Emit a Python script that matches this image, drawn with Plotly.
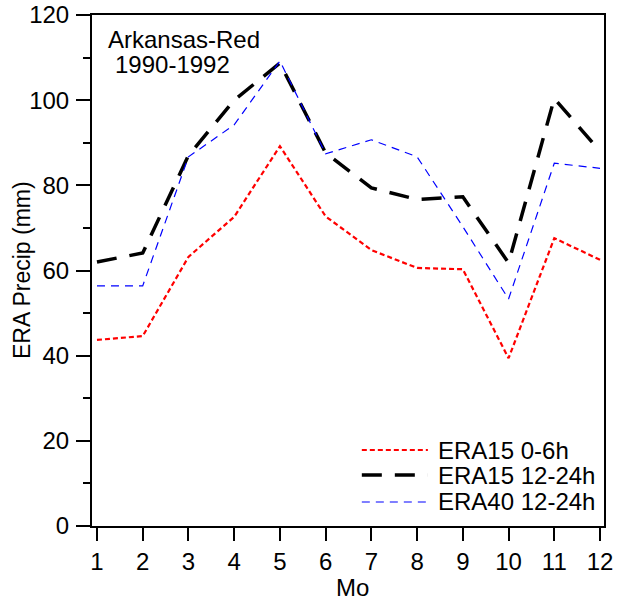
import plotly.graph_objects as go

months = list(range(1, 13))
era15_0_6h = [43.7, 44.6, 63.2, 72.6, 89.2, 72.7, 64.8, 60.6, 60.3, 39.4, 67.6, 62.5]
era15_12_24h = [62.0, 64.1, 87.0, 100.0, 108.7, 87.6, 79.4, 76.7, 77.3, 61.8, 100.4, 88.0]
era40_12_24h = [56.4, 56.4, 86.7, 94.2, 109.2, 87.4, 90.7, 86.7, 70.3, 53.3, 85.2, 84.0]

series_names = ["ERA15 0-6h", "ERA15 12-24h", "ERA40 12-24h"]
series_values = [era15_0_6h, era15_12_24h, era40_12_24h]
styles = [
    dict(color="#ff0000", width=2.2, dash="5px,3px"),
    dict(color="#000000", width=3.5, dash="20px,13px"),
    dict(color="#0000ff", width=1.2, dash="8px,6px"),
]

FONT = "Arial, Liberation Sans, sans-serif"

fig = go.Figure()
for name, vals, st in zip(series_names, series_values, styles):
    fig.add_trace(go.Scatter(x=months, y=vals, mode="lines", name=name,
                             line=st, showlegend=False))

fig.update_layout(
    width=620, height=603,
    margin=dict(l=92, r=16, t=15, b=77),
    paper_bgcolor="white", plot_bgcolor="white",
    font=dict(family=FONT, size=24, color="black"),
    showlegend=False,
    xaxis=dict(range=[0.891, 12.087], tickmode="array", tickvals=months,
               ticktext=[str(m) for m in months],
               showgrid=False, zeroline=False, showline=True, linecolor="black",
               linewidth=2, mirror=True, ticks="outside", ticklen=13, tickwidth=2,
               tickcolor="black", automargin=False),
    yaxis=dict(range=[0, 120], tickvals=[0, 20, 40, 60, 80, 100, 120],
               showgrid=False, zeroline=False, showline=True, linecolor="black",
               linewidth=2, mirror=True, ticks="outside", ticklen=14, tickwidth=2,
               tickcolor="black", ticklabelstandoff=2,
               minor=dict(tickvals=[10, 30, 50, 70, 90, 110], ticks="outside",
                          ticklen=7, tickwidth=2, tickcolor="black"),
               automargin=False),
)

# axis titles
fig.add_annotation(text="Mo", xref="paper", yref="paper", x=0.508, y=-0.1213,
                   xanchor="center", yanchor="middle", showarrow=False,
                   font=dict(size=24))
fig.add_annotation(text="ERA Precip (mm)", xref="paper", yref="paper", x=-0.1367, y=0.501,
                   xanchor="center", yanchor="middle", showarrow=False, textangle=-90,
                   font=dict(size=23))

# legend drawn as line samples + labels (lower right, as in the original)
leg_y = [0.1487, 0.0998, 0.047]
for name, st, yy in zip(series_names, styles, leg_y):
    fig.add_shape(type="line", xref="paper", yref="paper", x0=0.527, x1=0.656,
                  y0=yy, y1=yy, line=st)
    fig.add_annotation(text=name, xref="paper", yref="paper", x=0.672, y=yy,
                       xanchor="left", yanchor="middle", showarrow=False,
                       font=dict(size=24))

fig.add_annotation(text="Arkansas-Red", xref="paper", yref="paper", x=0.0273, y=0.953,
                   xanchor="left", yanchor="middle", showarrow=False, font=dict(size=24))
fig.add_annotation(text="1990-1992", xref="paper", yref="paper", x=0.041, y=0.904,
                   xanchor="left", yanchor="middle", showarrow=False, font=dict(size=24))

fig.write_html("out.html")
